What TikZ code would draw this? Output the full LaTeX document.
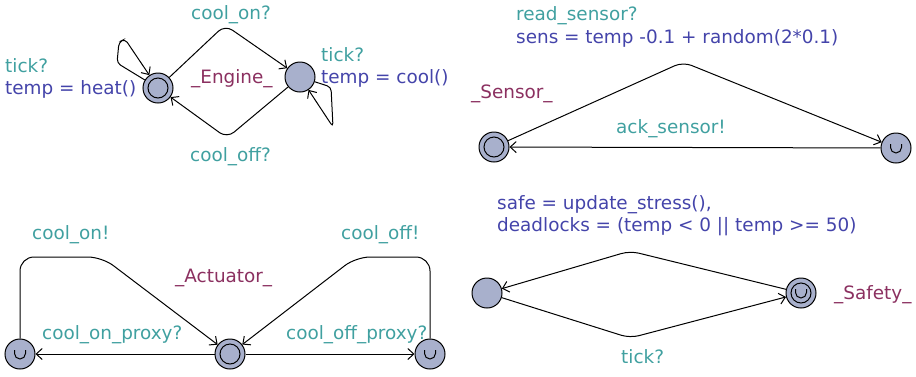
\documentclass[tikz,border=0pt]{standalone}
\usepackage{fontspec}
\setmainfont{DejaVu Sans}
\usetikzlibrary{arrows.meta}
\definecolor{lblc}{HTML}{40A0A0}
\definecolor{asgc}{HTML}{4444AA}
\definecolor{namec}{HTML}{8B3060}
\definecolor{locc}{HTML}{A8B0CC}
\newcommand\urgmark[1]{\draw[line width=1pt] ([shift={(-5.5,-4)}]#1.center) -- ++(0,3.5) arc[start angle=180,end angle=0,radius=5.5] -- ++(0,-3.5);}
\begin{document}
\begin{tikzpicture}[x=1pt,y=-1pt,
  loc/.style={circle,draw,fill=locc,minimum size=30pt,inner sep=0pt,line width=1pt},
  edge/.style={line width=1pt,rounded corners=9pt,-{Straight Barb[length=6pt,width=11pt]}},
  loopedge/.style={edge,rounded corners=4pt},
  txt/.style={anchor=base west,inner sep=0pt,font=\fontsize{18.4}{22}\selectfont},
  lbl/.style={txt,text=lblc},
  asg/.style={txt,text=asgc},
  nam/.style={txt,text=namec},
  inner/.style={line width=1pt}]
\useasboundingbox (0,0) rectangle (916,376);

% ---------- Engine ----------
\node[loc] (e1) at (158,88) {};
\draw[inner] (e1.center) circle[radius=10];
\node[loc] (e2) at (300,77) {};
\draw[edge] (e1) -- (225,25) -- (e2);
\draw[edge] (e2) -- (227,138) -- (e1);
\draw[loopedge] (e1) -- (117,63) -- (119,42) -- (125,39) -- (e1);
\draw[loopedge] (e2) -- (331,87) -- (333,127) -- (e2);
\node[lbl] (tEon) at (191,19) {cool\_on?};
\node[lbl] (tEoff) at (190,161) {cool\_off?};
\node[nam] (tEng) at (191,83) {\_Engine\_};
\node[lbl] (tEt1) at (5,72) {tick?};
\node[asg] (tEa1) at (5,94) {temp = heat()};
\node[lbl] (tEt2) at (321,61) {tick?};
\node[asg] (tEa2) at (321,83) {temp = cool()};

% ---------- Sensor ----------
\node[loc] (s1) at (494,147) {};
\draw[inner] (s1.center) circle[radius=10];
\node[loc] (s2) at (896,148) {};
\urgmark{s2}
\draw[edge] (s1) -- (683,62) -- (s2);
\draw[edge] (s2) -- (s1);
\node[lbl] (tSr) at (516,20) {read\_sensor?};
\node[asg] (tSa) at (516,43) {sens = temp -0.1 + random(2*0.1)};
\node[nam] (tSn) at (471,98) {\_Sensor\_};
\node[lbl] (tSack) at (616,133) {ack\_sensor!};

% ---------- Actuator ----------
\node[loc] (a1) at (20,354) {};
\urgmark{a1}
\node[loc] (a2) at (230,354) {};
\draw[inner] (a2.center) circle[radius=10];
\node[loc] (a3) at (430,354) {};
\urgmark{a3}
\draw[edge] (a2) -- (a1);
\draw[edge] (a2) -- (a3);
\draw[edge,rounded corners=14pt] (a1) -- (20,257) -- (102,257) -- (a2);
\draw[edge,rounded corners=14pt] (a3) -- (430,257) -- (356,257) -- (a2);
\node[lbl] (tAon) at (32,239) {cool\_on!};
\node[lbl] (tAoff) at (341,239) {cool\_off!};
\node[nam] (tAn) at (175,282) {\_Actuator\_};
\node[lbl] (tApon) at (42,339) {cool\_on\_proxy?};
\node[lbl] (tApoff) at (286,339) {cool\_off\_proxy?};

% ---------- Safety ----------
\node[loc] (f1) at (487,293) {};
\node[loc] (f2) at (801,293) {};
\draw[inner] (f2.center) circle[radius=10];
\urgmark{f2}
\draw[edge] (f2) -- (630,251) -- (f1);
\draw[edge] (f1) -- (630,338) -- (f2);
\node[asg] (tFa1) at (497,209) {safe = update\_stress(),};
\node[asg] (tFa2) at (497,231) {deadlocks = (temp < 0 || temp >= 50)};
\node[lbl] (tFt) at (621,363) {tick?};
\node[nam] (tFn) at (834,299) {\_Safety\_};
\end{tikzpicture}
\end{document}
